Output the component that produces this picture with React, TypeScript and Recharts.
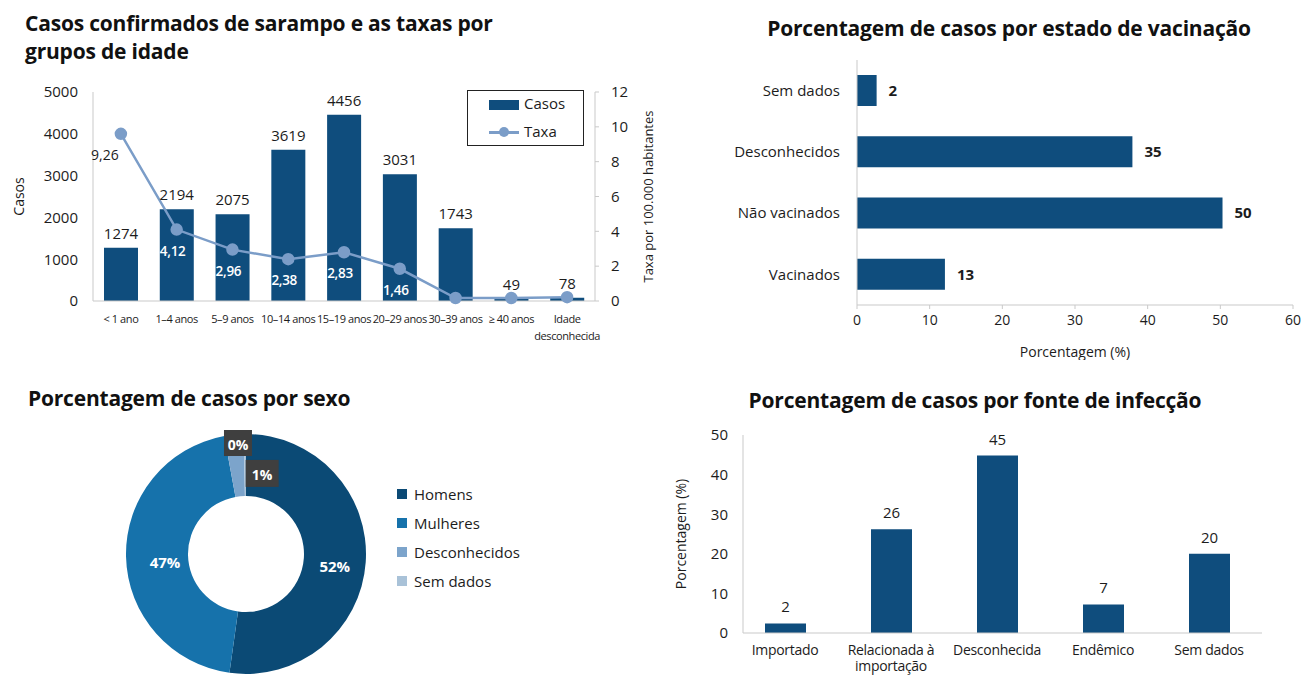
import React from 'react';
import { ComposedChart, BarChart, Bar, Line, XAxis, YAxis, LabelList, PieChart, Pie, Cell } from 'recharts';

// Casos e taxas por grupo de idade
const idadeGrupos = ['< 1 ano', '1–4 anos', '5–9 anos', '10–14 anos', '15–19 anos', '20–29 anos', '30–39 anos', '≥ 40 anos', 'Idade\ndesconhecida'];
const casos = [1274, 2194, 2075, 3619, 4456, 3031, 1743, 49, 78];
const taxa = [9.6, 4.1, 2.95, 2.4, 2.8, 1.85, 0.17, 0.17, 0.22];
const taxaRotulos = ['9,26', '4,12', '2,96', '2,38', '2,83', '1,46', '', '', ''];
const casosTicks = [0, 1000, 2000, 3000, 4000, 5000];
const taxaTicks = [0, 2, 4, 6, 8, 10, 12];

// Estado de vacinação
const vacinaEstados = ['Sem dados', 'Desconhecidos', 'Não vacinados', 'Vacinados'];
const vacinaPct = [2.7, 37.9, 50.3, 12.1];
const vacinaRotulos = ['2', '35', '50', '13'];
const vacinaTicks = [0, 10, 20, 30, 40, 50, 60];

// Sexo
const sexos = ['Homens', 'Mulheres', 'Desconhecidos', 'Sem dados'];
const sexoPct = [52.2, 44.9, 2.6, 0.3];
const sexoRotulos = ['52%', '47%', '1%', '0%'];

// Fonte de infecção
const fontes = ['Importado', 'Relacionada à\nimportação', 'Desconhecida', 'Endêmico', 'Sem dados'];
const fontePct = [2.4, 26.2, 44.8, 7.2, 20];
const fonteRotulos = ['2', '26', '45', '7', '20'];
const fonteTicks = [0, 10, 20, 30, 40, 50];

const NAVY = '#0f4d7d';
const LINE = '#7b9dc8';
const AXIS = '#c9c9c9';
const TEXT = '#1c1c1c';
const FONT = '"Open Sans", "Noto Sans", sans-serif';
const sexoCores = ['#0b4a75', '#1672ab', '#7ca4cb', '#a9c2d8'];

const idadeData = idadeGrupos.map((g, i) => ({ grupo: g, casos: casos[i], taxa: taxa[i], rotulo: taxaRotulos[i] }));
const vacinaData = vacinaEstados.map((e, i) => ({ estado: e, pct: vacinaPct[i], rotulo: vacinaRotulos[i] }));
const sexoData = sexos.map((s, i) => ({ sexo: s, pct: sexoPct[i], rotulo: sexoRotulos[i] }));
const fonteData = fontes.map((f, i) => ({ fonte: f, pct: fontePct[i], rotulo: fonteRotulos[i] }));

function MultiTick(props: any) {
  const { x, y, payload, fontSize, lineHeight, spacing } = props;
  const lines = String(payload.value).split('\n');
  return (
    <text x={x} y={y} textAnchor="middle" fontSize={fontSize} fill={TEXT} fontFamily={FONT} letterSpacing={spacing}>
      {lines.map((l, i) => (
        <tspan key={i} x={x} dy={i === 0 ? '0.71em' : lineHeight}>{l}</tspan>
      ))}
    </text>
  );
}

// rótulo vertical centrado na altura do eixo
function RotLabel(props: any) {
  const { viewBox, text, pos, size } = props;
  if (!viewBox) return null;
  const x = viewBox.x + pos;
  const y = viewBox.y + viewBox.height / 2;
  return (
    <text
      x={x}
      y={y}
      transform={`rotate(-90 ${x} ${y})`}
      textAnchor="middle"
      dominantBaseline="central"
      fontSize={size}
      fill={TEXT}
      fontFamily={FONT}
    >
      {text}
    </text>
  );
}

function TaxaLabel(props: any) {
  const { x, y, index } = props;
  const txt = taxaRotulos[index];
  if (!txt) return null;
  const first = index === 0;
  return (
    <text
      x={first ? x - 16 : x - 4}
      y={y + 21}
      textAnchor="middle"
      dominantBaseline="central"
      fontSize={first ? 14 : 13.5}
      letterSpacing={first ? 0 : -0.3}
      fontFamily={FONT}
      fontWeight={first ? 400 : 600}
      fill={first ? TEXT : '#ffffff'}
    >
      {txt}
    </text>
  );
}

function SexoLabel(props: any) {
  const { cx, cy, midAngle, innerRadius, outerRadius, index } = props;
  const RAD = Math.PI / 180;
  if (index < 2) {
    const r = (innerRadius + outerRadius) / 2 - (index === 1 ? 8 : 0);
    const x = cx + r * Math.cos(-midAngle * RAD);
    const y = cy + r * Math.sin(-midAngle * RAD);
    return (
      <text x={x} y={y + 6} textAnchor="middle" dominantBaseline="central" fill="#fff" fontSize={15} fontWeight={700} fontFamily={FONT}>
        {sexoRotulos[index]}
      </text>
    );
  }
  // pequenas fatias: caixa cinza escura
  const place = index === 2 ? { r: 78, dx: 24, w: 33, h: 27 } : { r: 108, dx: -7, w: 28, h: 26 };
  const x = cx + place.r * Math.cos(-midAngle * RAD) + place.dx;
  const y = cy + place.r * Math.sin(-midAngle * RAD) - 3;
  return (
    <g>
      <rect x={x - place.w / 2} y={y - place.h / 2} width={place.w} height={place.h} fill="#3f3f3f" />
      <text x={x} y={y + 1} textAnchor="middle" dominantBaseline="central" fill="#fff" fontSize={14} fontWeight={700} fontFamily={FONT}>
        {sexoRotulos[index]}
      </text>
    </g>
  );
}

const titleStyle: React.CSSProperties = {
  position: 'absolute',
  fontFamily: FONT,
  fontWeight: 700,
  fontSize: 21,
  lineHeight: '28px',
  color: '#111',
  letterSpacing: -0.2,
  whiteSpace: 'nowrap',
};

export default function App() {
  return (
    <div style={{ position: 'absolute', left: 0, top: 0, width: 1302, height: 675, background: '#fff', overflow: 'hidden', fontFamily: FONT }}>
      {/* Títulos */}
      <div style={{ ...titleStyle, left: 25, top: 9 }}>
        Casos confirmados de sarampo e as taxas por<br />grupos de idade
      </div>
      <div style={{ ...titleStyle, left: 709, top: 14, width: 600, textAlign: 'center' }}>Porcentagem de casos por estado de vacinação</div>
      <div style={{ ...titleStyle, left: 28, top: 384 }}>Porcentagem de casos por sexo</div>
      <div style={{ ...titleStyle, left: 675, top: 386, width: 600, textAlign: 'center' }}>Porcentagem de casos por fonte de infecção</div>

      {/* Casos e taxas por idade */}
      <div style={{ position: 'absolute', left: 0, top: 70 }}>
        <ComposedChart width={665} height={285} data={idadeData} margin={{ top: 22, right: 0, bottom: 0, left: 0 }}>
          <XAxis
            dataKey="grupo"
            interval={0}
            height={54}
            stroke={AXIS}
            tickLine={false}
            tickSize={6}
            tickMargin={8}
            tick={<MultiTick fontSize={11} lineHeight={17} spacing={-0.4} />}
          />
          <YAxis
            yAxisId="left"
            width={93}
            domain={[0, 5000]}
            ticks={casosTicks}
            stroke={AXIS}
            tickLine={false}
            tickMargin={9}
            tick={{ fill: TEXT, fontSize: 15, fontFamily: FONT }}
            label={<RotLabel text="Casos" pos={18} size={14} />}
          />
          <YAxis
            yAxisId="right"
            orientation="right"
            width={70}
            domain={[0, 12]}
            ticks={taxaTicks}
            stroke={AXIS}
            tickSize={4}
            tickMargin={12}
            tick={{ fill: TEXT, fontSize: 15, fontFamily: FONT }}
            label={<RotLabel text="Taxa por 100.000 habitantes" pos={53} size={13} />}
          />
          <Bar yAxisId="left" dataKey="casos" fill={NAVY} barSize={34} isAnimationActive={false}>
            <LabelList dataKey="casos" position="top" offset={9} fill={TEXT} fontSize={15} fontFamily={FONT} />
          </Bar>
          <Line
            yAxisId="right"
            dataKey="taxa"
            stroke={LINE}
            strokeWidth={2.5}
            dot={{ r: 5, fill: LINE, stroke: LINE }}
            isAnimationActive={false}
          >
            <LabelList dataKey="rotulo" content={<TaxaLabel />} />
          </Line>
        </ComposedChart>
      </div>
      {/* legenda do gráfico de idade */}
      <div style={{ position: 'absolute', left: 467, top: 90, width: 115, height: 54, border: '1.3px solid #222', background: '#fff' }}>
        <div style={{ position: 'absolute', left: 21, top: 9, width: 30, height: 10, background: NAVY }} />
        <div style={{ position: 'absolute', left: 56, top: 2, fontSize: 15, color: TEXT }}>Casos</div>
        <div style={{ position: 'absolute', left: 21, top: 40, width: 30, height: 2.5, background: LINE }} />
        <div style={{ position: 'absolute', left: 31, top: 36, width: 10, height: 10, borderRadius: 5, background: LINE }} />
        <div style={{ position: 'absolute', left: 56, top: 30, fontSize: 15, color: TEXT }}>Taxa</div>
      </div>

      {/* Estado de vacinação */}
      <div style={{ position: 'absolute', left: 700, top: 50 }}>
        <BarChart width={602} height={310} data={vacinaData} layout="vertical" margin={{ top: 10, right: 9, bottom: 0, left: 0 }}>
          <XAxis
            type="number"
            domain={[0, 60]}
            ticks={vacinaTicks}
            height={55}
            stroke={AXIS}
            tickSize={4}
            tickMargin={6}
            tick={{ fill: TEXT, fontSize: 14, fontFamily: FONT }}
            label={{ value: 'Porcentagem (%)', position: 'insideBottom', offset: 3, fill: TEXT, fontSize: 14, fontFamily: FONT }}
          />
          <YAxis
            type="category"
            dataKey="estado"
            width={157}
            stroke={AXIS}
            tickLine={false}
            tickMargin={11}
            tick={{ fill: TEXT, fontSize: 15, fontFamily: FONT }}
          />
          <Bar dataKey="pct" fill={NAVY} barSize={31} isAnimationActive={false}>
            <LabelList dataKey="rotulo" position="right" offset={12} fill={TEXT} fontSize={15} fontWeight={700} fontFamily={FONT} />
          </Bar>
        </BarChart>
      </div>

      {/* Sexo */}
      <div style={{ position: 'absolute', left: 0, top: 420 }}>
        <PieChart width={400} height={255}>
          <Pie
            data={sexoData}
            dataKey="pct"
            nameKey="sexo"
            cx={241}
            cy={129}
            innerRadius={58}
            outerRadius={120}
            startAngle={90}
            endAngle={-270}
            stroke="none"
            labelLine={false}
            label={<SexoLabel />}
            isAnimationActive={false}
          >
            {sexoData.map((d, i) => (
              <Cell key={d.sexo} fill={sexoCores[i]} />
            ))}
          </Pie>
        </PieChart>
      </div>
      <div style={{ position: 'absolute', left: 397, top: 479 }}>
        {sexos.map((s, i) => (
          <div key={s} style={{ display: 'flex', alignItems: 'center', height: 29, fontSize: 15, color: TEXT }}>
            <span style={{ width: 10, height: 10, background: sexoCores[i], marginRight: 7, display: 'inline-block' }} />
            {s}
          </div>
        ))}
      </div>

      {/* Fonte de infecção */}
      <div style={{ position: 'absolute', left: 660, top: 420 }}>
        <BarChart width={642} height={255} data={fonteData} margin={{ top: 15, right: 40, bottom: 0, left: 0 }}>
          <XAxis
            dataKey="fonte"
            interval={0}
            height={42}
            padding={{ left: -11, right: 0 }}
            stroke={AXIS}
            tickLine={false}
            tickSize={5}
            tickMargin={7}
            tick={<MultiTick fontSize={14} lineHeight={16.5} spacing={-0.3} />}
          />
          <YAxis
            width={83}
            domain={[0, 50]}
            ticks={fonteTicks}
            stroke={AXIS}
            tickLine={false}
            tickMargin={9}
            tick={{ fill: TEXT, fontSize: 15, fontFamily: FONT }}
            label={<RotLabel text="Porcentagem (%)" pos={20} size={14} />}
          />
          <Bar dataKey="pct" fill={NAVY} barSize={41} isAnimationActive={false}>
            <LabelList dataKey="rotulo" position="top" offset={11} fill={TEXT} fontSize={15} fontFamily={FONT} />
          </Bar>
        </BarChart>
      </div>
    </div>
  );
}
